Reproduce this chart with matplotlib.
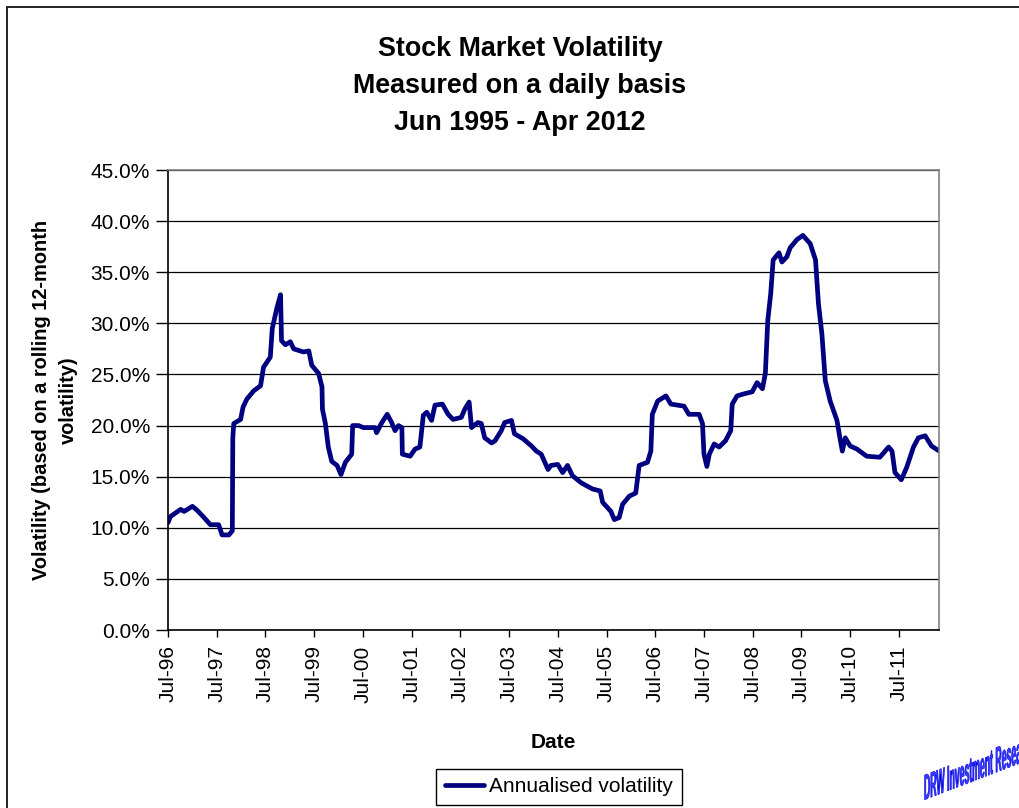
import numpy as np
import matplotlib
matplotlib.use("Agg")
import matplotlib.pyplot as plt
from matplotlib.patches import PathPatch, Rectangle
from matplotlib.textpath import TextPath
from matplotlib.font_manager import FontProperties
from matplotlib.transforms import Affine2D

plt.rcParams["font.family"] = ["Liberation Sans", "DejaVu Sans"]

# date as decimal year, volatility in %
years = np.array([
    1996.50, 1996.55, 1996.76, 1996.83, 1997.00, 1997.10, 1997.24, 1997.37,
    1997.54, 1997.61, 1997.75, 1997.82, 1997.83, 1997.85, 1997.99, 1998.04,
    1998.12, 1998.26, 1998.40, 1998.46, 1998.60, 1998.64, 1998.74, 1998.81,
    1998.83, 1998.91, 1999.01, 1999.08, 1999.28, 1999.39, 1999.45, 1999.59,
    1999.66, 1999.67, 1999.73, 1999.79, 1999.86, 1999.97, 2000.05, 2000.14,
    2000.27, 2000.29, 2000.41, 2000.51, 2000.75, 2000.78, 2000.89, 2001.00,
    2001.09, 2001.16, 2001.23, 2001.30, 2001.31, 2001.47, 2001.57, 2001.67,
    2001.74, 2001.81, 2001.91, 2001.98, 2002.13, 2002.25, 2002.35, 2002.52,
    2002.59, 2002.68, 2002.73, 2002.86, 2002.93, 2003.00, 2003.14, 2003.21,
    2003.34, 2003.41, 2003.55, 2003.61, 2003.79, 2003.96, 2004.06, 2004.16,
    2004.30, 2004.36, 2004.50, 2004.60, 2004.70, 2004.80, 2004.98, 2005.21,
    2005.37, 2005.42, 2005.59, 2005.66, 2005.76, 2005.83, 2005.97, 2006.10,
    2006.17, 2006.34, 2006.41, 2006.44, 2006.55, 2006.72, 2006.82, 2007.09,
    2007.19, 2007.40, 2007.47, 2007.50, 2007.56, 2007.61, 2007.71, 2007.81,
    2007.94, 2008.05, 2008.08, 2008.18, 2008.32, 2008.49, 2008.59, 2008.70,
    2008.76, 2008.81, 2008.87, 2008.92, 2009.04, 2009.10, 2009.20, 2009.27,
    2009.41, 2009.53, 2009.68, 2009.79, 2009.85, 2009.92, 2009.99, 2010.09,
    2010.23, 2010.29, 2010.34, 2010.40, 2010.50, 2010.64, 2010.84, 2011.11,
    2011.29, 2011.36, 2011.42, 2011.55, 2011.66, 2011.80, 2011.90, 2012.04,
    2012.17, 2012.33,
])
volatility = np.array([
    10.5, 11.1, 11.8, 11.6, 12.1, 11.7, 11.0, 10.3,
    10.3, 9.3, 9.3, 9.7, 18.8, 20.2, 20.6, 21.8,
    22.6, 23.4, 23.9, 25.7, 26.7, 29.5, 31.6, 32.8,
    28.3, 27.9, 28.2, 27.5, 27.2, 27.3, 25.9, 25.1,
    23.8, 21.6, 20.2, 17.9, 16.5, 16.1, 15.2, 16.4,
    17.2, 20.0, 20.0, 19.8, 19.8, 19.3, 20.3, 21.1,
    20.3, 19.5, 20.0, 19.8, 17.2, 17.0, 17.7, 17.9,
    21.0, 21.3, 20.5, 22.0, 22.1, 21.1, 20.6, 20.8,
    21.6, 22.3, 19.8, 20.3, 20.2, 18.8, 18.3, 18.5,
    19.5, 20.3, 20.5, 19.2, 18.7, 18.0, 17.5, 17.2,
    15.7, 16.1, 16.2, 15.4, 16.1, 15.1, 14.4, 13.8,
    13.6, 12.5, 11.6, 10.8, 11.0, 12.3, 13.1, 13.4,
    16.1, 16.4, 17.5, 21.1, 22.4, 22.9, 22.1, 21.9,
    21.1, 21.1, 20.2, 17.2, 16.0, 17.2, 18.2, 17.9,
    18.5, 19.5, 22.1, 22.9, 23.1, 23.3, 24.2, 23.6,
    25.1, 30.3, 32.9, 36.2, 36.9, 36.0, 36.5, 37.4,
    38.2, 38.6, 37.8, 36.2, 31.9, 29.0, 24.4, 22.4,
    20.5, 18.8, 17.5, 18.8, 18.0, 17.7, 17.0, 16.9,
    17.9, 17.5, 15.4, 14.7, 15.9, 17.9, 18.8, 19.0,
    18.0, 17.5,
])
tick_years = np.arange(1996, 2012) + 0.5
tick_labels = ["Jul-%02d" % (y % 100) for y in range(1996, 2012)]

W, H = 1020, 808
fig = plt.figure(figsize=(W / 100, H / 100), dpi=100)

# outer chart border (left and top visible)
fig.add_artist(Rectangle((7 / W, -0.1), 2, 1.1 - 7 / H, transform=fig.transFigure,
                         fill=False, edgecolor="#222222", lw=1.4))

ax = fig.add_axes([168 / W, 1 - 630 / H, (939.3 - 168) / W, 460 / H])
ax.plot(years, volatility, color="#000080", lw=3.4, solid_joinstyle="round",
        solid_capstyle="round", label="Annualised volatility")

ax.set_xlim(1996.5, 2012.33)
ax.set_ylim(0, 45)
ax.set_yticks(np.arange(0, 46, 5))
ax.yaxis.set_major_formatter(lambda v, p: f"{v:.1f}%")
ax.set_xticks(tick_years, tick_labels, rotation=90)
ax.grid(axis="y", color="black", lw=0.9)
ax.tick_params(axis="y", length=9, width=1, pad=4, labelsize=15)
ax.tick_params(axis="x", length=5, width=1, pad=6, labelsize=15)
for s in ["top", "right"]:
    ax.spines[s].set_color("#808080")
    ax.spines[s].set_linewidth(1.2)
for s in ["left", "bottom"]:
    ax.spines[s].set_linewidth(1.2)

fig.text(520 / W, 1 - 36 / H,
         "Stock Market Volatility\nMeasured on a daily basis\nJun 1995 - Apr 2012",
         ha="center", va="top", fontsize=19.4, weight="bold", linespacing=1.56)
fig.text(55 / W, 1 - 400 / H, "Volatility (based on a rolling 12-month\nvolatility)",
         ha="center", va="center", rotation=90, fontsize=14.4, weight="bold",
         linespacing=1.56, multialignment="center")
fig.text(553 / W, 1 - 742 / H, "Date", ha="center", va="center",
         fontsize=15, weight="bold")

ax.legend(loc="center", bbox_to_anchor=(559 / W, 1 - 787 / H),
          bbox_transform=fig.transFigure, fontsize=15, frameon=True,
          fancybox=False, edgecolor="black", framealpha=1,
          handlelength=1.9, handletextpad=0.25, borderpad=0.42)
ax.get_legend().get_frame().set_linewidth(1)

# skewed watermark in the bottom-right corner
wm = TextPath((0, 0), "DRW Investment Research", size=1,
              prop=FontProperties(family="Liberation Sans", weight="bold"))
wm_tr = Affine2D().scale(8.7 / 100, 36 / 100).skew_deg(0, 21).translate(9.24, 0.08)
fig.add_artist(PathPatch(wm, transform=wm_tr + fig.dpi_scale_trans,
                         facecolor="#3a3aff", edgecolor="#0000dd", lw=0.4))

fig.savefig("out.png", dpi=100)
